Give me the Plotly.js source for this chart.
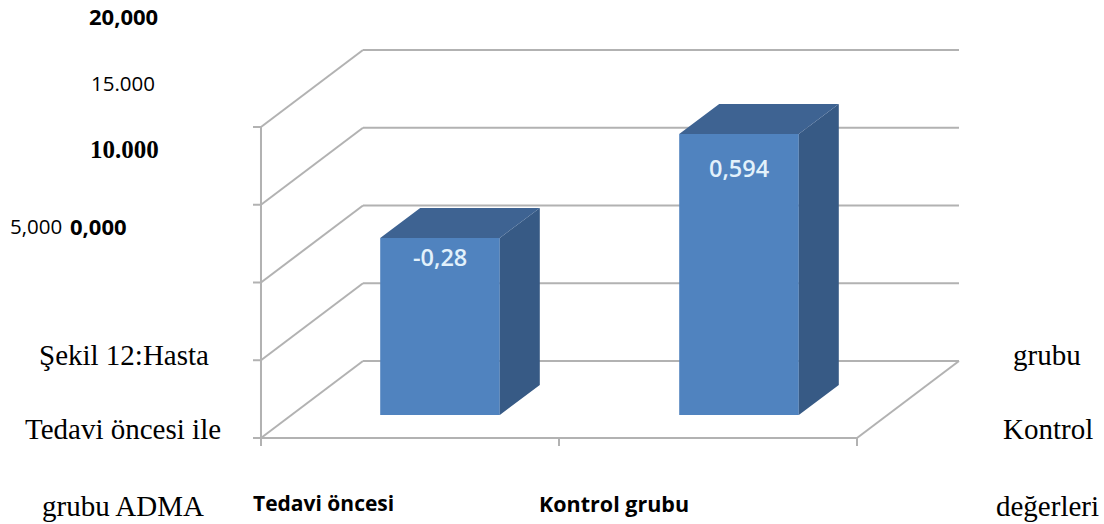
<!DOCTYPE html>
<html lang="tr">
<head>
<meta charset="utf-8">
<title>ADMA</title>
<script src="https://cdn.plot.ly/plotly-3.0.1.min.js"></script>
<style>html,body{margin:0;padding:0;background:#fff}#chart{width:1104px;height:524px}</style>
</head>
<body>
<div id="chart"></div>
<script>
// Chart data
const categories = ['Tedavi öncesi', 'Kontrol grubu'];
const categoryPositions = [0, 1];
const values = [-0.28, 0.594];
const valueLabels = ['-0,28', '0,594'];
const tickLabels = ['20,000', '15.000', '10.000', '5,000', '0,000'];

// Drawing scale: one category step = 299px, one value unit = 119px
const W = 1104, H = 524;
const pxX = 299, pxY = 119;
const xZero = 440, yZeroPx = 204.7;
const xRange = [-xZero / pxX, (W - xZero) / pxX];
const yRange = [yZeroPx / pxY - H / pxY, yZeroPx / pxY];

// Floor of the bars and of the 3D box, in axis units
const barFloor = -1.767;
const barHalf = 0.2;
const barDepthX = 40 / pxX, barDepthY = 30 / pxY;
const boxDepthX = 102 / pxX, boxDepthY = 77 / pxY;
const boxLeft = -0.5987, boxRight = 1.3946;
const boxFloor = -1.9605, levelStep = 0.6534;
const levels = [0, 1, 2, 3, 4].map(i => boxFloor + i * levelStep);

const gridColor = '#b2b2b2';
const gridLine = (x0, y0, x1, y1, width) => ({
  type: 'line', layer: 'below', xref: 'x', yref: 'y',
  x0, y0, x1, y1, line: { color: gridColor, width: width || 2 }
});

// Walls, floor and tick marks of the 3D box
const shapes = [];
levels.forEach(v => {
  shapes.push(gridLine(boxLeft + boxDepthX, v + boxDepthY, boxRight + boxDepthX, v + boxDepthY));
  shapes.push(gridLine(boxLeft, v, boxLeft + boxDepthX, v + boxDepthY));
  shapes.push(gridLine(boxLeft - 8 / pxX, v, boxLeft, v));
});
shapes.push(gridLine(boxLeft, boxFloor, boxLeft, levels[4]));
shapes.push(gridLine(boxLeft, boxFloor, boxRight, boxFloor));
shapes.push(gridLine(boxRight, boxFloor, boxRight + boxDepthX, boxFloor + boxDepthY));
[0, 1, 2].forEach(i => {
  const x = boxLeft + i * (boxRight - boxLeft) / 2;
  shapes.push(gridLine(x, boxFloor, x, boxFloor - 8 / pxY));
});

// Front faces come from the values; side and top faces are offset by the bar depth
const frontFace = {
  type: 'bar', x: categoryPositions, y: values.map(v => v - barFloor), base: barFloor,
  width: barHalf * 2, hoverinfo: 'skip',
  marker: { color: '#5083bf', line: { width: 0 } }
};
const sidePath = { x: [], y: [] }, topPath = { x: [], y: [] };
categoryPositions.forEach((c, i) => {
  const r = c + barHalf, l = c - barHalf, v = values[i];
  sidePath.x.push(r, r + barDepthX, r + barDepthX, r, r, null);
  sidePath.y.push(v, v + barDepthY, barFloor + barDepthY, barFloor, v, null);
  topPath.x.push(l, l + barDepthX, r + barDepthX, r, l, null);
  topPath.y.push(v, v + barDepthY, v + barDepthY, v, v, null);
});
const face = (p, color) => ({
  type: 'scatter', mode: 'lines', x: p.x, y: p.y, fill: 'toself', fillcolor: color,
  line: { width: 0, color }, hoverinfo: 'skip'
});

// Free-standing text placed by page position
const sans = '"Open Sans", "Noto Sans", sans-serif';
const serif = '"Liberation Serif", serif';
const label = (s, xPx, yPx, size, family, bold) => ({
  text: bold ? '<b>' + s + '</b>' : s, xref: 'paper', yref: 'paper',
  x: xPx / W, y: 1 - yPx / H, xanchor: 'left', yanchor: 'middle',
  showarrow: false, borderpad: 0, font: { size, family, color: '#000' }
});

const annotations = [
  label(tickLabels[0], 88, 16.5, 22, sans, true),
  label(tickLabels[1], 90, 83, 20.5, sans, false),
  label(tickLabels[2], 89, 149, 25, serif, true),
  label(tickLabels[3], 9, 226.5, 20.5, sans, false),
  label(tickLabels[4], 69, 226, 22, sans, true),
  label(categories[0], 252, 503, 21, sans, true),
  label(categories[1], 538, 503, 21.5, sans, true),
  label('Şekil 12:Hasta', 38, 355, 29, serif, false),
  label('Tedavi öncesi ile', 24, 429, 29, serif, false),
  label('grubu ADMA', 41, 506, 29, serif, false),
  label('grubu', 1012, 355, 29, serif, false),
  label('Kontrol', 1002, 429, 29, serif, false),
  label('değerleri', 995, 506, 29, serif, false)
];

// Value labels inside the front faces
const labelDrop = [19 / pxY, 34 / pxY];
values.forEach((v, i) => annotations.push({
  text: valueLabels[i], xref: 'x', yref: 'y', x: categoryPositions[i], y: v - labelDrop[i],
  xanchor: 'center', yanchor: 'middle', showarrow: false,
  font: { size: 23.5, family: sans, color: '#e2f1fb', weight: 600 }
}));

Plotly.newPlot('chart', [frontFace, face(sidePath, '#375a85'), face(topPath, '#3e6392')], {
  width: W, height: H, margin: { l: 0, r: 0, t: 0, b: 0 },
  paper_bgcolor: '#fff', plot_bgcolor: 'rgba(0,0,0,0)', showlegend: false,
  xaxis: { range: xRange, visible: false, fixedrange: true },
  yaxis: { range: yRange, visible: false, fixedrange: true },
  shapes, annotations
}, { displayModeBar: false, staticPlot: true });
</script>
</body>
</html>
